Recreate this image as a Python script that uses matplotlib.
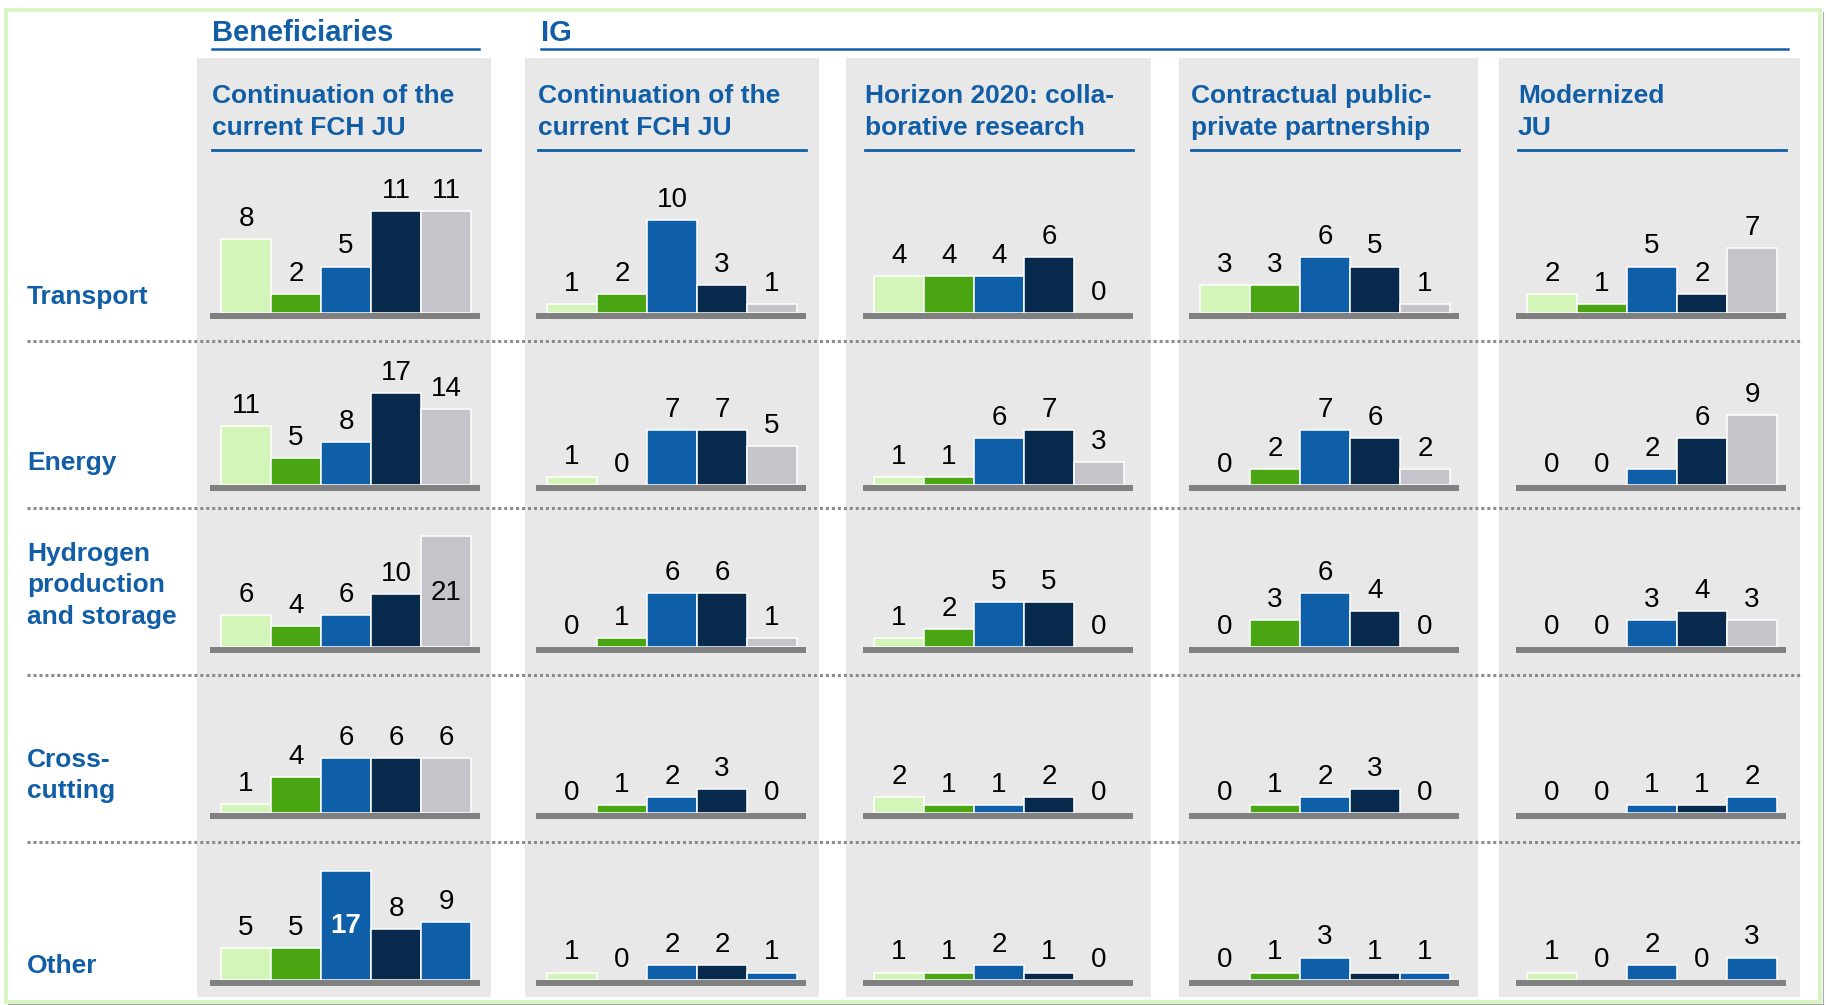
import matplotlib
matplotlib.use("Agg")
import matplotlib.pyplot as plt
from matplotlib.patches import Rectangle
from matplotlib.lines import Line2D

plt.rcParams["font.family"] = ["Liberation Sans", "DejaVu Sans"]

# --- data -------------------------------------------------------------
rows = ["Transport", "Energy", "Hydrogen production and storage", "Cross-cutting", "Other"]
row_lines = [["Transport"], ["Energy"], ["Hydrogen", "production", "and storage"],
             ["Cross-", "cutting"], ["Other"]]

panel_titles = [["Continuation of the", "current FCH JU"],
                ["Continuation of the", "current FCH JU"],
                ["Horizon 2020: colla-", "borative research"],
                ["Contractual public-", "private partnership"],
                ["Modernized", "JU"]]

ben_continuation = [[8, 2, 5, 11, 11], [11, 5, 8, 17, 14], [6, 4, 6, 10, 21],
                    [1, 4, 6, 6, 6], [5, 5, 17, 8, 9]]
ig_continuation = [[1, 2, 10, 3, 1], [1, 0, 7, 7, 5], [0, 1, 6, 6, 1],
                   [0, 1, 2, 3, 0], [1, 0, 2, 2, 1]]
ig_horizon = [[4, 4, 4, 6, 0], [1, 1, 6, 7, 3], [1, 2, 5, 5, 0],
              [2, 1, 1, 2, 0], [1, 1, 2, 1, 0]]
ig_cppp = [[3, 3, 6, 5, 1], [0, 2, 7, 6, 2], [0, 3, 6, 4, 0],
           [0, 1, 2, 3, 0], [0, 1, 3, 1, 1]]
ig_modernized = [[2, 1, 5, 2, 7], [0, 0, 2, 6, 9], [0, 0, 3, 4, 3],
                 [0, 0, 1, 1, 2], [1, 0, 2, 0, 3]]
panel_data = [ben_continuation, ig_continuation, ig_horizon, ig_cppp, ig_modernized]

# --- style ------------------------------------------------------------
BLUE_TXT = "#115ea6"
PALETTE = ["#d3f5b9", "#4aa512", "#0e5ea8", "#072a4c", "#c6c4cb"]
PANEL_BG = "#e8e8e8"
AXIS_GREY = "#808080"

# last bar drawn in blue instead of grey: (row, panel)
blue_last = {(4, 0), (4, 1), (4, 2), (4, 3), (4, 4), (3, 4)}
# labels drawn inside the bar: (row, panel, bar) -> (colour, weight)
inside_labels = {(2, 0, 4): ("black", "normal"), (4, 0, 2): ("white", "bold")}

# pixels per unit for each row (beneficiaries panel / IG panels)
ppu_ben = [9.3, 5.4, 5.3, 9.1, 6.4]
ppu_ig = [9.3, 7.8, 9.0, 8.0, 7.5]

# --- layout (pixels) --------------------------------------------------
W, H = 1826, 1005
panel_left = [197, 525, 846, 1179, 1499]
panel_right = [491, 819, 1151, 1478, 1800]
axis_left = [210, 536, 863, 1189, 1516]
row_base = [313, 485, 647, 813, 980]
row_label_base = [[304], [470], [561, 592, 624], [767, 798], [973]]
separators = [341, 508, 675, 842]
AX_W, AX_H = 270, 160

fig = plt.figure(figsize=(W / 100, H / 100), dpi=100)


def fx(x):
    return x / W


def fy(y):
    return 1 - y / H


def hline(x0, x1, y, **kw):
    fig.add_artist(Line2D([fx(x0), fx(x1)], [fy(y), fy(y)], transform=fig.transFigure, **kw))


# outer frame with a faint shadow
hline(8, 1823, 1003.5, color="#a8a8a8", lw=0.8)
fig.add_artist(Line2D([fx(1822.5), fx(1822.5)], [fy(12), fy(1003.5)],
                      transform=fig.transFigure, color="#a8a8a8", lw=0.8))
fig.add_artist(Rectangle((fx(5.5), fy(1001.5)), (1819.5 - 5.5) / W, (1001.5 - 10) / H,
                         transform=fig.transFigure, fill=False,
                         edgecolor="#d3f5bc", linewidth=2.6))

# grey panel backgrounds
for l, r in zip(panel_left, panel_right):
    fig.add_artist(Rectangle((fx(l), fy(997)), (r - l) / W, (997 - 58) / H,
                             transform=fig.transFigure, facecolor=PANEL_BG,
                             edgecolor="none", zorder=0))

# group headers
fig.text(fx(212), fy(41), "Beneficiaries", fontsize=21, fontweight="bold",
         color=BLUE_TXT, va="baseline")
hline(212, 479, 49, color=BLUE_TXT, lw=1.8)
fig.text(fx(541), fy(41), "IG", fontsize=21, fontweight="bold",
         color=BLUE_TXT, va="baseline")
hline(541, 1788, 49, color=BLUE_TXT, lw=1.8)

# panel titles
for p, lines in enumerate(panel_titles):
    x0 = axis_left[p] + 2
    for k, txt in enumerate(lines):
        fig.text(fx(x0), fy(103 + 32 * k), txt, fontsize=19, fontweight="bold",
                 color=BLUE_TXT, va="baseline")
    hline(x0, x0 + 268, 150, color=BLUE_TXT, lw=2.0)

# row labels
for lines, bases in zip(row_lines, row_label_base):
    for txt, yb in zip(lines, bases):
        fig.text(fx(27), fy(yb), txt, fontsize=19, fontweight="bold",
                 color=BLUE_TXT, va="baseline")

# dotted row separators
for y in separators:
    hline(27, 1800, y, color="#8c8c8c", lw=2.2, linestyle=(0, (1, 0.95)),
          solid_capstyle="butt", dash_capstyle="butt")

# bar cells
for r in range(len(rows)):
    for p in range(len(panel_data)):
        vals = panel_data[p][r]
        ppu = ppu_ben[r] if p == 0 else ppu_ig[r]
        ax = fig.add_axes([fx(axis_left[p]), fy(row_base[r]), AX_W / W, AX_H / H])
        ax.patch.set_visible(False)
        ax.set_xlim(-0.5 - 11 / 50, 4.5 + 9 / 50)
        ax.set_ylim(0, AX_H / ppu)
        for side in ("top", "left", "right"):
            ax.spines[side].set_visible(False)
        sp = ax.spines["bottom"]
        sp.set_color(AXIS_GREY)
        sp.set_linewidth(4.3)
        sp.set_capstyle("butt")
        sp.set_position(("outward", 2.16))
        sp.set_zorder(3)
        ax.set_xticks([])
        ax.set_yticks([])

        colors = list(PALETTE)
        if (r, p) in blue_last:
            colors[4] = PALETTE[2]
        bars = ax.bar(range(5), vals, width=1.0, color=colors,
                      edgecolor="white", linewidth=1.1)
        for i, (b, v) in enumerate(zip(bars, vals)):
            if v == 0:
                b.set_visible(False)
            if (r, p, i) in inside_labels:
                col, wt = inside_labels[(r, p, i)]
                ax.annotate(str(v), xy=(i, 0), xytext=(0, 39), textcoords="offset points",
                            ha="center", va="center", fontsize=20, color=col,
                            fontweight=wt, annotation_clip=False)
            else:
                ax.annotate(str(v), xy=(i, v), xytext=(0, 9.4), textcoords="offset points",
                            ha="center", va="baseline", fontsize=20, color="black",
                            annotation_clip=False)

fig.savefig("out.png", dpi=100)
